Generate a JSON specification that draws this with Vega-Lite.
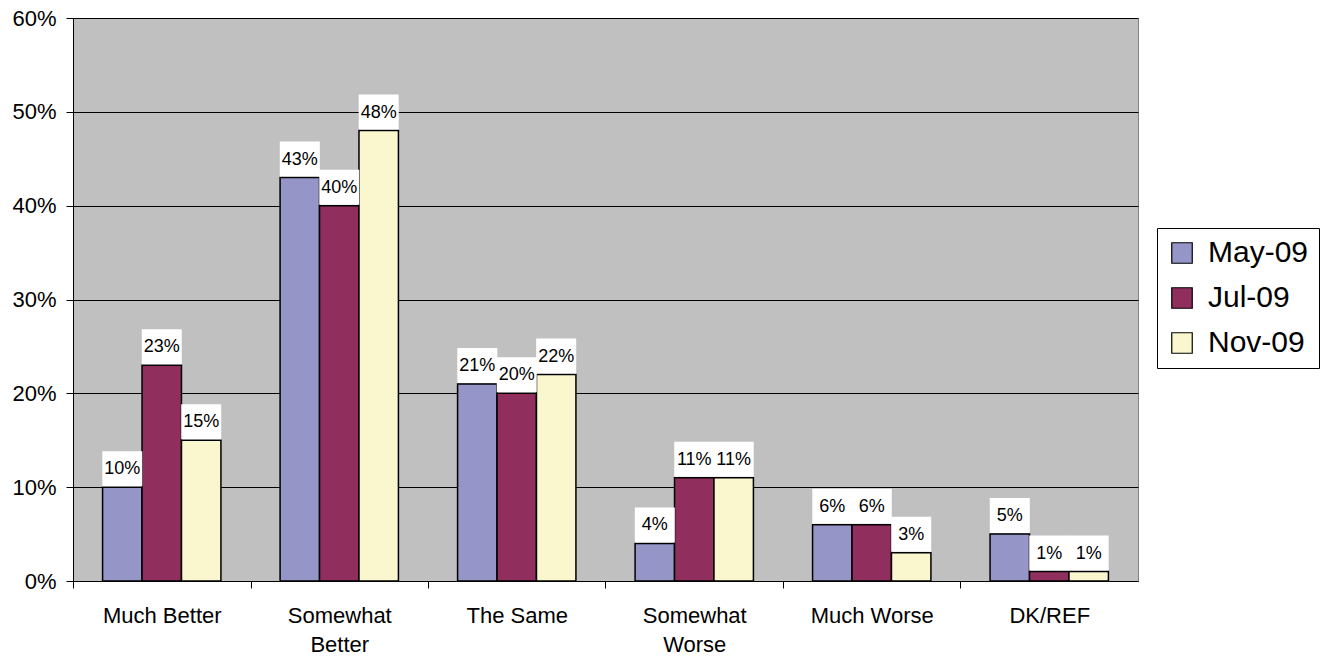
{
  "$schema": "https://vega.github.io/schema/vega-lite/v6.json",
  "width": 1065,
  "height": 563,
  "autosize": "none",
  "padding": {"left": 73, "top": 18, "right": 190, "bottom": 76},
  "background": "white",
  "config": {
    "font": "Liberation Sans",
    "view": {"fill": "#C0C0C0", "stroke": "#808080", "strokeWidth": 1}
  },
  "data": {
    "values": [
      {"category": "Much Better", "series": "May-09", "value": 0.10, "label": "10%"},
      {"category": "Much Better", "series": "Jul-09", "value": 0.23, "label": "23%"},
      {"category": "Much Better", "series": "Nov-09", "value": 0.15, "label": "15%"},
      {"category": "Somewhat Better", "series": "May-09", "value": 0.43, "label": "43%"},
      {"category": "Somewhat Better", "series": "Jul-09", "value": 0.40, "label": "40%"},
      {"category": "Somewhat Better", "series": "Nov-09", "value": 0.48, "label": "48%"},
      {"category": "The Same", "series": "May-09", "value": 0.21, "label": "21%"},
      {"category": "The Same", "series": "Jul-09", "value": 0.20, "label": "20%"},
      {"category": "The Same", "series": "Nov-09", "value": 0.22, "label": "22%"},
      {"category": "Somewhat Worse", "series": "May-09", "value": 0.04, "label": "4%"},
      {"category": "Somewhat Worse", "series": "Jul-09", "value": 0.11, "label": "11%"},
      {"category": "Somewhat Worse", "series": "Nov-09", "value": 0.11, "label": "11%"},
      {"category": "Much Worse", "series": "May-09", "value": 0.06, "label": "6%"},
      {"category": "Much Worse", "series": "Jul-09", "value": 0.06, "label": "6%"},
      {"category": "Much Worse", "series": "Nov-09", "value": 0.03, "label": "3%"},
      {"category": "DK/REF", "series": "May-09", "value": 0.05, "label": "5%"},
      {"category": "DK/REF", "series": "Jul-09", "value": 0.01, "label": "1%"},
      {"category": "DK/REF", "series": "Nov-09", "value": 0.01, "label": "1%"}
    ]
  },
  "layer": [
    {
      "mark": {"type": "bar", "stroke": "black", "strokeWidth": 1.5},
      "encoding": {
        "x": {
          "field": "category",
          "type": "nominal",
          "sort": ["Much Better", "Somewhat Better", "The Same", "Somewhat Worse", "Much Worse", "DK/REF"],
          "scale": {"paddingInner": 0.3333, "paddingOuter": 0.1667},
          "axis": {
            "title": null,
            "labelAngle": 0,
            "labelFontSize": 22,
            "labelColor": "black",
            "labelPadding": 17,
            "labelLineHeight": 29,
            "labelExpr": "datum.value == 'Somewhat Better' ? ['Somewhat', 'Better'] : datum.value == 'Somewhat Worse' ? ['Somewhat', 'Worse'] : datum.value",
            "tickOffset": -88.75,
            "labelOffset": 88.75,
            "tickSize": 7,
            "tickColor": "black",
            "domainColor": "black",
            "grid": false
          }
        },
        "xOffset": {
          "field": "series",
          "type": "nominal",
          "sort": ["May-09", "Jul-09", "Nov-09"]
        },
        "y": {
          "field": "value",
          "type": "quantitative",
          "scale": {"domain": [0, 0.6], "nice": false},
          "axis": {
            "title": null,
            "format": ".0%",
            "values": [0, 0.1, 0.2, 0.3, 0.4, 0.5, 0.6],
            "labelFontSize": 22,
            "labelColor": "black",
            "labelPadding": 10,
            "tickSize": 7,
            "tickColor": "black",
            "domainColor": "black",
            "grid": true,
            "gridColor": "black",
            "gridOpacity": 1,
            "gridWidth": 1
          }
        },
        "color": {
          "field": "series",
          "type": "nominal",
          "sort": ["May-09", "Jul-09", "Nov-09"],
          "scale": {"domain": ["May-09", "Jul-09", "Nov-09"], "range": ["#9595C8", "#902F5E", "#FAF7CE"]},
          "legend": {
            "title": null,
            "orient": "none",
            "legendX": 1084,
            "legendY": 210,
            "symbolType": "square",
            "symbolSize": 420,
            "symbolStrokeColor": "black",
            "symbolStrokeWidth": 1.2,
            "symbolOpacity": 1,
            "labelFontSize": 30,
            "labelColor": "black",
            "labelOffset": 11,
            "rowPadding": 15,
            "fillColor": "white",
            "strokeColor": "black",
            "padding": 10
          }
        }
      }
    },
    {
      "mark": {"type": "bar", "color": "white", "width": 40, "y2Offset": -36, "yOffset": -1},
      "encoding": {
        "x": {"field": "category", "type": "nominal", "sort": ["Much Better", "Somewhat Better", "The Same", "Somewhat Worse", "Much Worse", "DK/REF"]},
        "xOffset": {"field": "series", "type": "nominal", "sort": ["May-09", "Jul-09", "Nov-09"]},
        "y": {"field": "value", "type": "quantitative"},
        "y2": {"field": "value"}
      }
    },
    {
      "mark": {"type": "text", "fontSize": 18, "color": "black", "baseline": "middle", "dy": -18},
      "encoding": {
        "x": {"field": "category", "type": "nominal", "sort": ["Much Better", "Somewhat Better", "The Same", "Somewhat Worse", "Much Worse", "DK/REF"]},
        "xOffset": {"field": "series", "type": "nominal", "sort": ["May-09", "Jul-09", "Nov-09"]},
        "y": {"field": "value", "type": "quantitative"},
        "text": {"field": "label"}
      }
    }
  ]
}
